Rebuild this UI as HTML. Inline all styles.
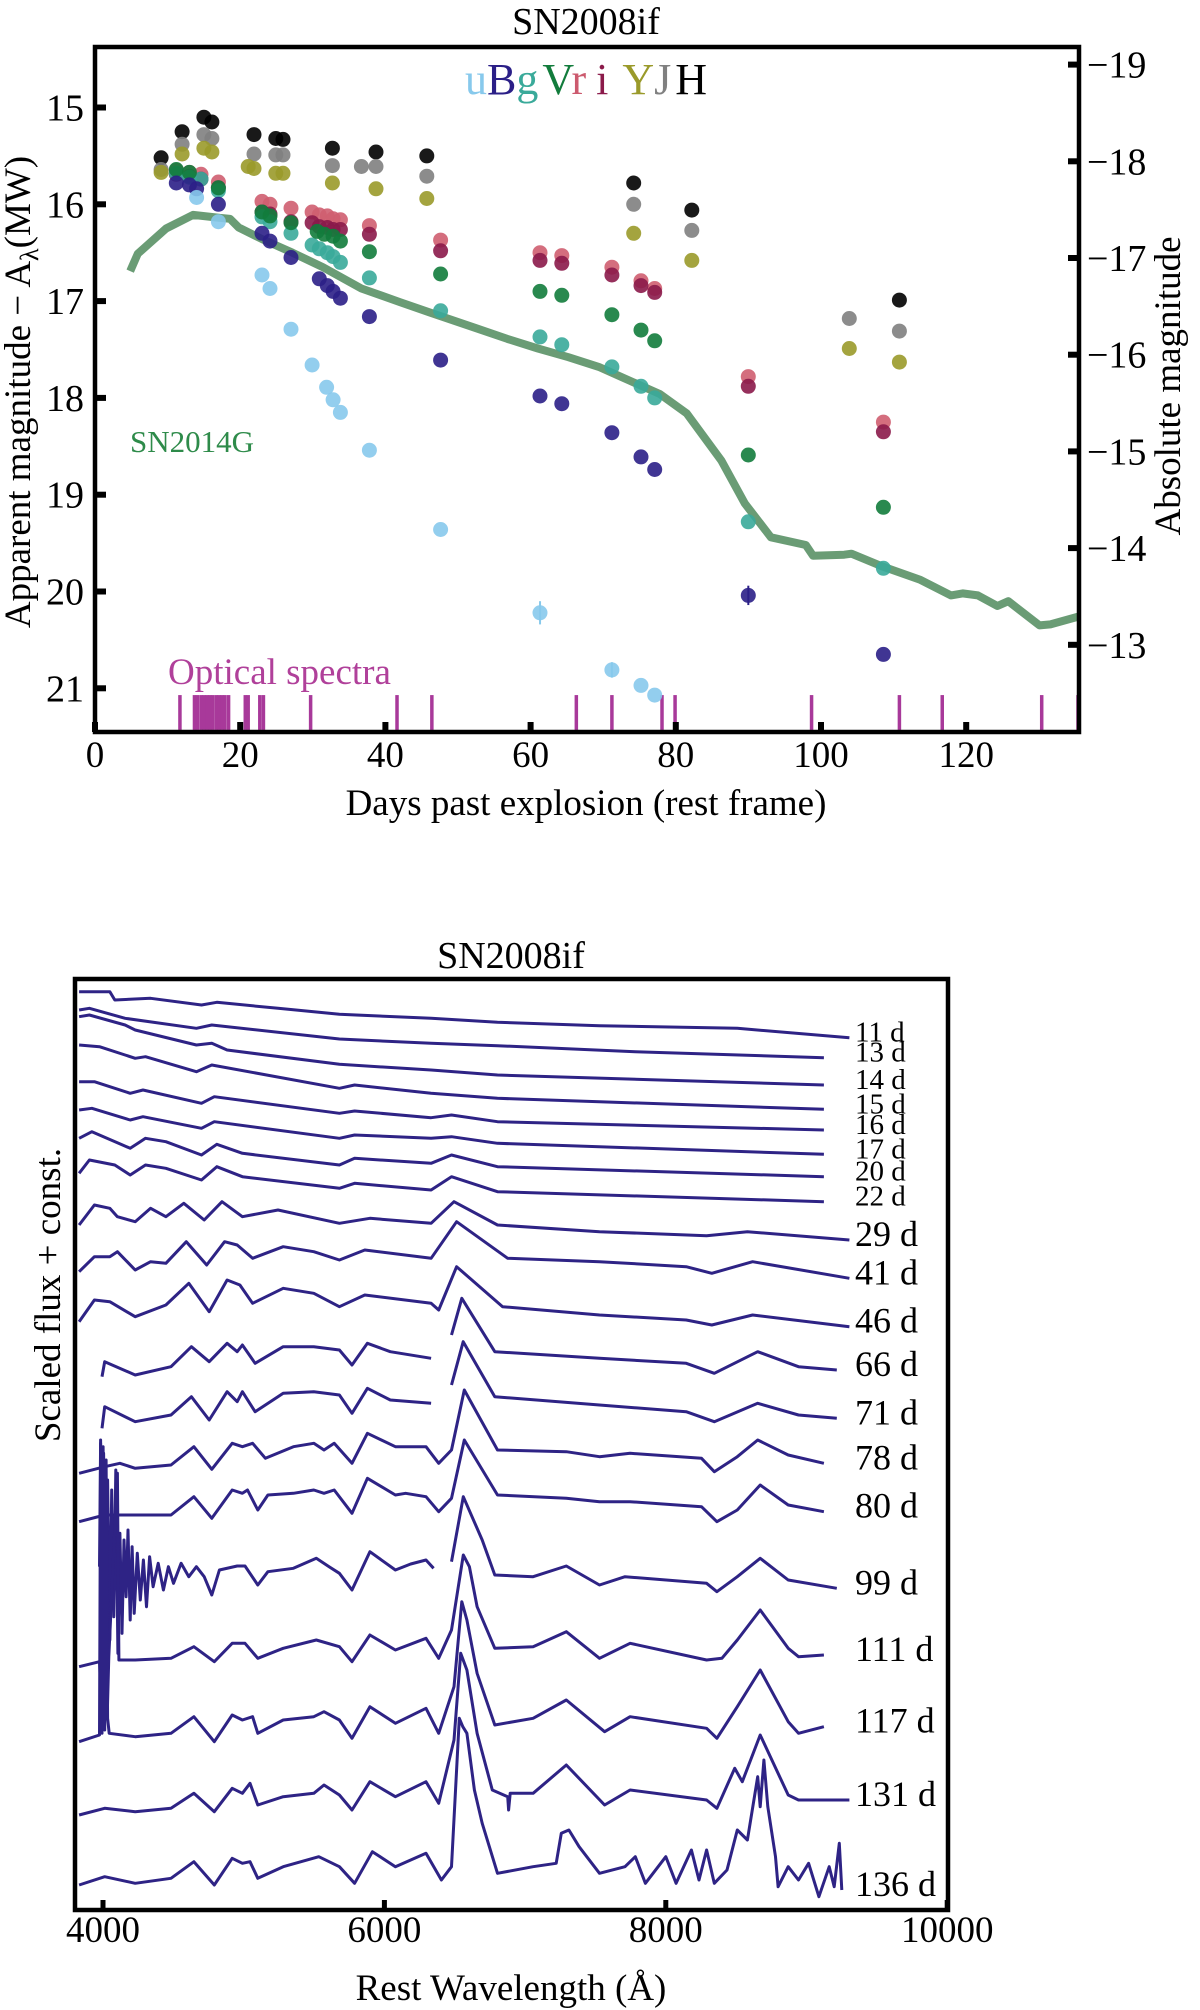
<!DOCTYPE html>
<html><head><meta charset="utf-8"><title>SN2008if</title>
<style>
html,body{margin:0;padding:0;background:#fff;}
svg{display:block;}
text{font-family:"Liberation Serif",serif;fill:#000;}
</style></head>
<body>
<svg id="fig" width="1200" height="2010" viewBox="0 0 1200 2010" xmlns="http://www.w3.org/2000/svg">
<rect x="0" y="0" width="1200" height="2010" fill="#fff"/>
<g id="top">
<text x="586" y="34" font-size="38" text-anchor="middle">SN2008if</text>
<text x="586" y="94" font-size="44" text-anchor="middle"><tspan fill="#87c9ec">u</tspan><tspan fill="#2b1f87">B</tspan><tspan fill="#3aaa9a">g</tspan><tspan dx="4" fill="#127c3c">V</tspan><tspan fill="#cc5a6e">r</tspan><tspan dx="10" fill="#8b1a4a">i</tspan><tspan dx="14" fill="#9a9a2a">Y</tspan><tspan fill="#808080">J</tspan><tspan dx="4" fill="#000">H</tspan></text>
<text transform="translate(30,392) rotate(-90)" font-size="37" text-anchor="middle">Apparent magnitude − A<tspan font-size="26" dy="8">λ</tspan><tspan dy="-8">(MW)</tspan></text>
<text transform="translate(1180,386) rotate(-90)" font-size="37" text-anchor="middle">Absolute magnitude</text>
<text x="586" y="815" font-size="37" text-anchor="middle">Days past explosion (rest frame)</text>
<text x="130" y="452" font-size="31" style="fill:#2e8b4a">SN2014G</text>
<text x="168" y="684" font-size="37" style="fill:#b0409a">Optical spectra</text>
</g>
<g id="bot">
<text x="511" y="968" font-size="38" text-anchor="middle">SN2008if</text>
<text transform="translate(60,1295) rotate(-90)" font-size="37" text-anchor="middle">Scaled flux + const.</text>
<text x="511" y="2000" font-size="37" text-anchor="middle">Rest Wavelength (Å)</text>
</g>
</svg>
<script>
// ---------- Light curve data ----------
const H_days=[9.1,12.0,15.0,16.1,21.9,24.9,25.9,32.7,38.7,45.7,74.2,82.2,110.8];
const H_mag=[15.52,15.25,15.10,15.15,15.28,15.32,15.33,15.42,15.46,15.50,15.78,16.06,16.99];
const J_days=[9.1,12.0,15.0,16.1,21.9,24.9,25.9,32.7,36.7,38.7,45.7,74.2,82.2,103.9,110.8];
const J_mag=[15.64,15.38,15.28,15.32,15.48,15.49,15.49,15.60,15.61,15.61,15.71,16.00,16.27,17.18,17.31];
const Y_days=[9.1,12.0,15.0,16.1,21.1,21.9,24.9,25.9,32.7,38.7,45.7,74.2,82.2,103.9,110.8];
const Y_mag=[15.67,15.48,15.42,15.46,15.61,15.63,15.68,15.68,15.78,15.84,15.94,16.30,16.58,17.49,17.63];
const opt_days=[11.2,13.0,14.6,17.0,23.0,24.1,27.0,29.9,30.9,32.0,32.8,33.8,37.8,47.6,61.3,64.3,71.2,75.2,77.1,89.99,108.6];
const r_mag=[15.65,15.67,15.69,15.77,15.97,16.0,16.04,16.08,16.11,16.12,16.15,16.16,16.22,16.37,16.50,16.53,16.65,16.79,16.87,17.78,18.25];
const i_mag=[15.69,15.71,15.74,15.83,16.08,16.10,16.18,16.19,16.23,16.24,16.26,16.26,16.31,16.48,16.58,16.61,16.73,16.84,16.91,17.88,18.35];
const g_mag=[15.68,15.72,15.74,15.86,16.13,16.18,16.30,16.42,16.46,16.50,16.54,16.60,16.76,17.10,17.37,17.45,17.68,17.88,18.00,19.28,19.76];
const V_days=[11.2,13.0,17.0,23.0,24.1,27.0,30.6,31.6,32.8,33.8,37.8,47.6,61.3,64.3,71.2,75.2,77.1,89.99,108.6];
const V_mag=[15.64,15.67,15.83,16.08,16.12,16.19,16.28,16.31,16.33,16.38,16.49,16.72,16.90,16.94,17.14,17.30,17.41,18.59,19.13];
const B_days=[11.2,13.0,14.0,17.0,23.0,24.1,27.0,30.9,32.0,32.8,33.8,37.8,47.6,61.3,64.3,71.2,75.2,77.1,89.99,108.6];
const B_mag=[15.78,15.80,15.84,16.00,16.30,16.38,16.55,16.77,16.84,16.90,16.97,17.16,17.61,17.98,18.06,18.36,18.61,18.74,20.04,20.65];
const B_err=[0,0,0,0,0,0,0,0,0,0,0,0,0,0,0,0,0,0,0.1,0];
const u_days=[14.0,17.0,23.0,24.1,27.0,29.9,31.9,32.8,33.8,37.8,47.6,61.3,71.2,75.2,77.1];
const u_mag=[15.93,16.18,16.73,16.87,17.29,17.66,17.89,18.02,18.15,18.54,19.36,20.22,20.81,20.97,21.07];
const u_err=[0,0,0,0,0,0,0,0,0,0,0,0.12,0.08,0,0];
const tmpl_days=[4.85,5.9,9.8,13.5,17.2,18.6,19.8,23.0,27.2,31.4,36.7,42.0,46.2,52.5,56.8,61.0,65.2,69.4,73.6,77.8,81.5,86.3,89.5,93.1,97.9,98.9,103.2,104.2,108.4,113.7,117.9,119.5,121.6,124.3,125.8,130.1,131.6,135.9];
const tmpl_mag=[16.69,16.51,16.25,16.11,16.14,16.15,16.24,16.36,16.50,16.65,16.87,17.01,17.12,17.28,17.39,17.49,17.58,17.68,17.82,17.96,18.16,18.65,19.09,19.44,19.52,19.63,19.62,19.61,19.74,19.88,20.04,20.02,20.04,20.15,20.10,20.35,20.34,20.25];
const spec_epochs=[11.7,13.7,14.1,14.6,15.0,15.4,15.8,16.2,16.7,17.1,17.5,17.9,18.4,20.7,21.1,22.7,23.2,29.7,41.6,46.4,66.3,71.2,78.1,79.9,98.7,110.8,116.7,130.4,135.4];
const x_ticks=[0,20,40,60,80,100,120];
const y_ticks=[15,16,17,18,19,20,21];
const abs_ticks=[-19,-18,-17,-16,-15,-14,-13];

// ---------- Spectra data ----------
const spec_labels=["11 d","13 d","14 d","15 d","16 d","17 d","20 d","22 d","29 d","41 d","46 d","66 d","71 d","78 d","80 d","99 d","111 d","117 d","131 d","136 d"];
const spec_const=[2805,2805,2805,2805,2805,2805,2805,2805,2805,2805,2805,2805,2805,1410,1410,1410,1410,1410,1410,1410];
const spec_wl=[
[3830,4048,4084,4338,4700,4809,5244,5680,6332,6804,7529,8508,9305],
[3830,3903,4157,4664,4773,5680,6332,6804,7783,9124],
[3830,3903,4157,4229,4664,4773,4882,5680,6332,6804,9124],
[3830,3975,4157,4229,4302,4664,4773,5680,5788,6332,6804,9124],
[3830,3939,4193,4284,4700,4791,5680,5788,6332,6477,6804,9124],
[3830,3921,4193,4284,4700,4791,5680,5788,6332,6477,6804,9124],
[3830,3921,4193,4302,4447,4700,4809,4991,5680,5788,6332,6477,6804,9124],
[3830,3903,4084,4193,4302,4447,4700,4809,4991,5680,5788,6332,6477,6804,9124],
[3830,3939,4048,4102,4229,4338,4447,4574,4719,4846,4991,5244,5680,5897,6332,6495,6804,7529,8290,8580,9305],
[3830,3939,4048,4102,4229,4338,4447,4592,4737,4864,4954,5063,5281,5498,5680,5861,6332,6513,6876,7529,8145,8327,8617,9305],
[3830,3939,4048,4229,4447,4610,4755,4882,4973,5063,5281,5498,5680,5861,6332,6386,6513,6840,7529,8145,8327,8617,9305],
[3993,4012,4229,4483,4628,4755,4882,4954,4991,5081,5281,5498,5680,5770,5879,6042,6332,null,6477,6550,6785,7529,8145,8345,8653,8943,9215],
[3993,4012,4229,4483,4628,4755,4882,4954,4991,5081,5281,5498,5680,5770,5879,6042,6332,null,6477,6560,6785,7529,8145,8345,8653,8943,9215],
[3830,4012,4120,4229,4483,4646,4773,4918,4991,5063,5154,5353,5498,5571,5643,5770,5879,6078,6296,6386,6477,6568,6804,7293,7529,7746,8254,8345,8508,8653,8870,9124],
[3830,4012,4483,4646,4773,4918,4991,5027,5100,5172,5353,5498,5571,5643,5770,5879,6078,6151,6296,6386,6477,6568,6804,7293,7529,7746,8254,8363,8508,8671,8870,9124],
[3975,3983,3993,4004,4019,4033,4048,4062,4077,4091,4106,4120,4135,4149,4164,4178,4193,4207,4222,4244,4265,4287,4309,4331,4356,4392,4429,4465,4501,4555,4610,4664,4719,4773,4827,4954,5009,5100,5172,5353,5516,5607,5680,5770,5897,6078,6187,6296,6350,null,6477,6561,6695,6785,7057,7293,7529,7710,8290,8363,8508,8671,8870,9215],
[3830,3975,3993,4004,4030,4041,4102,4113,4229,4483,4646,4791,4918,5009,5100,5281,5516,5680,5770,5897,6078,6296,6386,6477,6561,6604,6659,6785,7057,7293,7529,7746,8290,8399,8508,8671,8870,8943,9124],
[3830,3975,3983,3993,4001,4012,4022,4033,4044,4229,4483,4646,4791,4918,4991,5063,5100,5281,5498,5571,5680,5770,5897,6078,6296,6386,6495,6550,6586,6659,6785,7057,7293,7565,7746,8290,8363,8508,8671,8870,8943,9124],
[3830,4012,4229,4483,4646,4791,4918,4991,5045,5100,5281,5498,5571,5680,5770,5897,6078,6296,6386,6495,6542,6586,6659,6767,6876,6883,6894,7057,7293,7565,7746,8290,8363,8490,8544,8671,8870,8943,9124,9305],
[3830,4012,4229,4483,4646,4791,4918,4991,5045,5100,5281,5534,5680,5788,5915,6078,6296,6405,6477,6532,6557,6586,6640,6695,6804,7057,7221,7257,7311,7384,7529,7710,7783,7855,8000,8073,8182,8236,8290,8345,8435,8508,8580,8653,8671,8697,8725,8780,8798,8870,8943,9015,9088,9161,9197,9233,9251]
];
const spec_flux=[
[-50,-50,-75,-70,-90,-82,-100,-118,-130,-142,-152,-160,-188],
[-105,-100,-130,-160,-150,-192,-205,-212,-230,-248],
[-125,-120,-150,-165,-210,-205,-225,-268,-285,-300,-330],
[-210,-215,-240,-250,-245,-290,-270,-340,-330,-355,-370,-403],
[-320,-320,-355,-345,-385,-365,-415,-408,-428,-420,-440,-465],
[-405,-400,-435,-425,-460,-440,-490,-480,-490,-485,-505,-538],
[-490,-470,-520,-490,-500,-540,-508,-535,-570,-550,-565,-540,-575,-605],
[-595,-555,-570,-600,-570,-580,-615,-575,-605,-640,-625,-645,-605,-650,-680],
[-750,-690,-700,-725,-740,-700,-725,-685,-735,-680,-725,-705,-745,-730,-745,-680,-750,-770,-782,-770,-795],
[-890,-845,-845,-830,-885,-860,-865,-800,-870,-800,-810,-850,-815,-830,-855,-825,-850,-740,-850,-860,-875,-895,-860,-910],
[-1040,-975,-980,-1025,-990,-925,-1010,-915,-930,-985,-940,-955,-995,-960,-985,-1005,-875,-995,-1020,-1035,-1050,-1020,-1055],
[-1205,-1160,-1200,-1175,-1115,-1160,-1105,-1130,-1110,-1165,-1115,-1115,-1125,-1170,-1105,-1130,-1150,null,-1080,-970,-1130,-1150,-1165,-1195,-1130,-1175,-1185],
[-1360,-1295,-1340,-1320,-1265,-1335,-1250,-1280,-1250,-1310,-1255,-1250,-1260,-1315,-1240,-1275,-1285,null,-1230,-1100,-1265,-1290,-1310,-1340,-1285,-1320,-1330],
[-100,-80,-70,-85,-75,-20,-88,-10,-20,-10,-55,-20,-10,-30,-10,-70,20,-20,-20,-70,-30,150,-30,-35,-50,-40,-55,-95,-50,0,-45,-70],
[-245,-225,-225,-170,-235,-150,-160,-150,-210,-165,-160,-150,-160,-150,-220,-115,-165,-160,-170,-215,-175,0,-165,-175,-185,-185,-200,-245,-210,-135,-195,-215],
[-380,-10,-640,-40,-560,-120,-600,-150,-530,-90,-640,-280,-580,-300,-470,-270,-540,-320,-520,-340,-480,-360,-500,-350,-440,-370,-450,-380,-430,-370,-410,-380,-410,-465,-390,-378,-378,-435,-395,-385,-355,-380,-400,-450,-335,-390,-372,-360,-385,null,-365,-170,-300,-405,-410,-378,-435,-410,-430,-455,-410,-355,-420,-445],
[-680,-665,-835,-640,-830,-650,-100,-660,-660,-655,-620,-665,-610,-610,-655,-625,-600,-620,-665,-585,-630,-595,-655,-570,-345,-380,-500,-625,-620,-575,-655,-610,-660,-655,-600,-510,-625,-650,-645],
[-905,-885,0,-880,-20,-870,-60,-835,-880,-890,-880,-830,-905,-825,-840,-830,-880,-840,-830,-815,-840,-895,-800,-850,-805,-880,-740,-485,-540,-700,-855,-835,-780,-875,-830,-865,-895,-800,-690,-845,-880,-860],
[-1125,-1105,-1115,-1105,-1060,-1115,-1045,-1060,-1030,-1095,-1070,-1060,-1035,-1065,-1110,-1025,-1070,-1025,-1090,-900,-640,-690,-880,-1050,-1070,-1110,-1060,-1060,-975,-1095,-1050,-1080,-1105,-985,-1025,-885,-1065,-1080,-1080,-1080],
[-1335,-1310,-1330,-1315,-1265,-1335,-1255,-1270,-1265,-1315,-1280,-1250,-1280,-1330,-1235,-1280,-1240,-1320,-1280,-835,-860,-880,-1050,-1150,-1300,-1280,-1270,-1180,-1170,-1220,-1300,-1280,-1250,-1330,-1250,-1330,-1230,-1320,-1230,-1330,-1290,-1170,-1200,-1010,-1100,-960,-1100,-1250,-1340,-1280,-1320,-1270,-1370,-1280,-1340,-1210,-1350]
];
const wl_ticks=[4000,6000,8000,10000];

// ---------- Axes ----------
const NS="http://www.w3.org/2000/svg";
const svg=document.getElementById('fig');
const topG=document.getElementById('top');
const botG=document.getElementById('bot');
const X0=95,X1=1079,Y0=47,Y1=732;
function xDay(d){return X0+d*7.26;}
function yMag(m){return 107.5+(m-15)*96.8;}
function yAbs(a){return 64.6+(a+19)*96.7;}
const BX0=75,BX1=948,BY0=979,BY1=1910;
function xWl(w){return 103+(w-4000)*0.1407;}
function yFlux(v){return BY1-v/3;}
function mk(tag,attrs,parent){const e=document.createElementNS(NS,tag);for(const k in attrs)e.setAttribute(k,attrs[k]);parent.appendChild(e);return e;}

const defs=mk('defs',{},svg);
const cp=mk('clipPath',{id:'clipTop'},defs);
mk('rect',{x:X0,y:Y0,width:X1-X0,height:Y1-Y0},cp);
const cp2=mk('clipPath',{id:'clipBot'},defs);
mk('rect',{x:BX0,y:BY0,width:BX1-BX0,height:BY1-BY0},cp2);

const plotG=mk('g',{'clip-path':'url(#clipTop)'},topG);



let dpath=tmpl_days.map((d,k)=>(k?'L':'M')+xDay(d).toFixed(1)+' '+yMag(tmpl_mag[k]).toFixed(1)).join(' ');
const tl=mk('path',{d:dpath,fill:'none',stroke:'#5a9166','stroke-width':8,'stroke-opacity':0.9,'stroke-linejoin':'round'},plotG);



spec_epochs.forEach(d=>{
  const r=mk('rect',{x:xDay(d)-1.75,y:yMag(21.07),width:3.5,height:yMag(21.43)-yMag(21.07),fill:'#a8399a'},plotG);
  
  
});

function band(name,days,mags,color,errs){
  const g=mk('g',{},plotG);
  
  
  days.forEach((d,k)=>{
    if(errs&&errs[k]>0){
      const l=mk('line',{x1:xDay(d),x2:xDay(d),y1:yMag(mags[k]-errs[k]),y2:yMag(mags[k]+errs[k]),stroke:color,'stroke-width':2},g);
      
      
    }
    const c=mk('circle',{cx:xDay(d).toFixed(1),cy:yMag(mags[k]).toFixed(1),r:7.5,fill:color,'fill-opacity':0.9},g);
    
    
  });
}
band('H',H_days,H_mag,'#000000');
band('J',J_days,J_mag,'#7f7f7f');
band('Y',Y_days,Y_mag,'#9a9a2a');
band('r',opt_days,r_mag,'#cf5e70');
band('i',opt_days,i_mag,'#8b1a4a');
band('g',opt_days,g_mag,'#3aaa9a');
band('V',V_days,V_mag,'#127c3c');
band('B',B_days,B_mag,'#2b1f87',B_err);
band('u',u_days,u_mag,'#87c9ec',u_err);

const fr=mk('rect',{x:X0,y:Y0,width:X1-X0,height:Y1-Y0,fill:'none',stroke:'#000','stroke-width':4.5},topG);


x_ticks.forEach(d=>{
  const t=mk('rect',{x:xDay(d)-3,y:Y1-10,width:6,height:10,fill:'#000'},topG);
  
  
  const tx=mk('text',{x:xDay(d),y:767,'font-size':37,'text-anchor':'middle'},topG);
  tx.textContent=d;
  
  
});
y_ticks.forEach(m=>{
  const t=mk('rect',{x:X0,y:yMag(m)-3,width:11,height:6,fill:'#000'},topG);
  
  
  const tx=mk('text',{x:84,y:yMag(m)+13,'font-size':38,'text-anchor':'end'},topG);
  tx.textContent=m;
  
  
});
abs_ticks.forEach(a=>{
  const t=mk('rect',{x:X1-11,y:yAbs(a)-3,width:11,height:6,fill:'#000'},topG);
  
  
  const tx=mk('text',{x:1087,y:yAbs(a)+13,'font-size':38,'text-anchor':'start'},topG);
  tx.textContent='\u2212'+Math.abs(a);
  
  
});

// ---------- Spectra ----------
const specG=mk('g',{'clip-path':'url(#clipBot)'},botG);


spec_wl.forEach((wls,s)=>{
  const fl=spec_flux[s];
  let d='',pen=false;
  wls.forEach((w,k)=>{
    if(w===null||fl[k]===null){pen=false;return;}
    d+=(pen?'L':'M')+xWl(w).toFixed(1)+' '+yFlux(spec_const[s]+fl[k]).toFixed(1)+' ';
    pen=true;
  });
  const p=mk('path',{d:d,fill:'none',stroke:'#2e2385','stroke-width':3,'stroke-linejoin':'round'},specG);
  
  
  const last=fl[fl.length-1];
  const small=s<8;
  const lt=mk('text',{x:855,y:yFlux(spec_const[s]+last)+(small?4:6),'font-size':small?29:36},botG);
  lt.textContent=spec_labels[s];
  
  
});
const bf=mk('rect',{x:BX0,y:BY0,width:BX1-BX0,height:BY1-BY0,fill:'none',stroke:'#000','stroke-width':4.5},botG);


wl_ticks.forEach(w=>{
  const t=mk('rect',{x:xWl(w)-2.5,y:BY1-10,width:5,height:10,fill:'#000'},botG);
  
  
  const tx=mk('text',{x:xWl(w),y:1942,'font-size':37,'text-anchor':'middle'},botG);
  tx.textContent=w;
  
  
});
</script>
</body></html>
